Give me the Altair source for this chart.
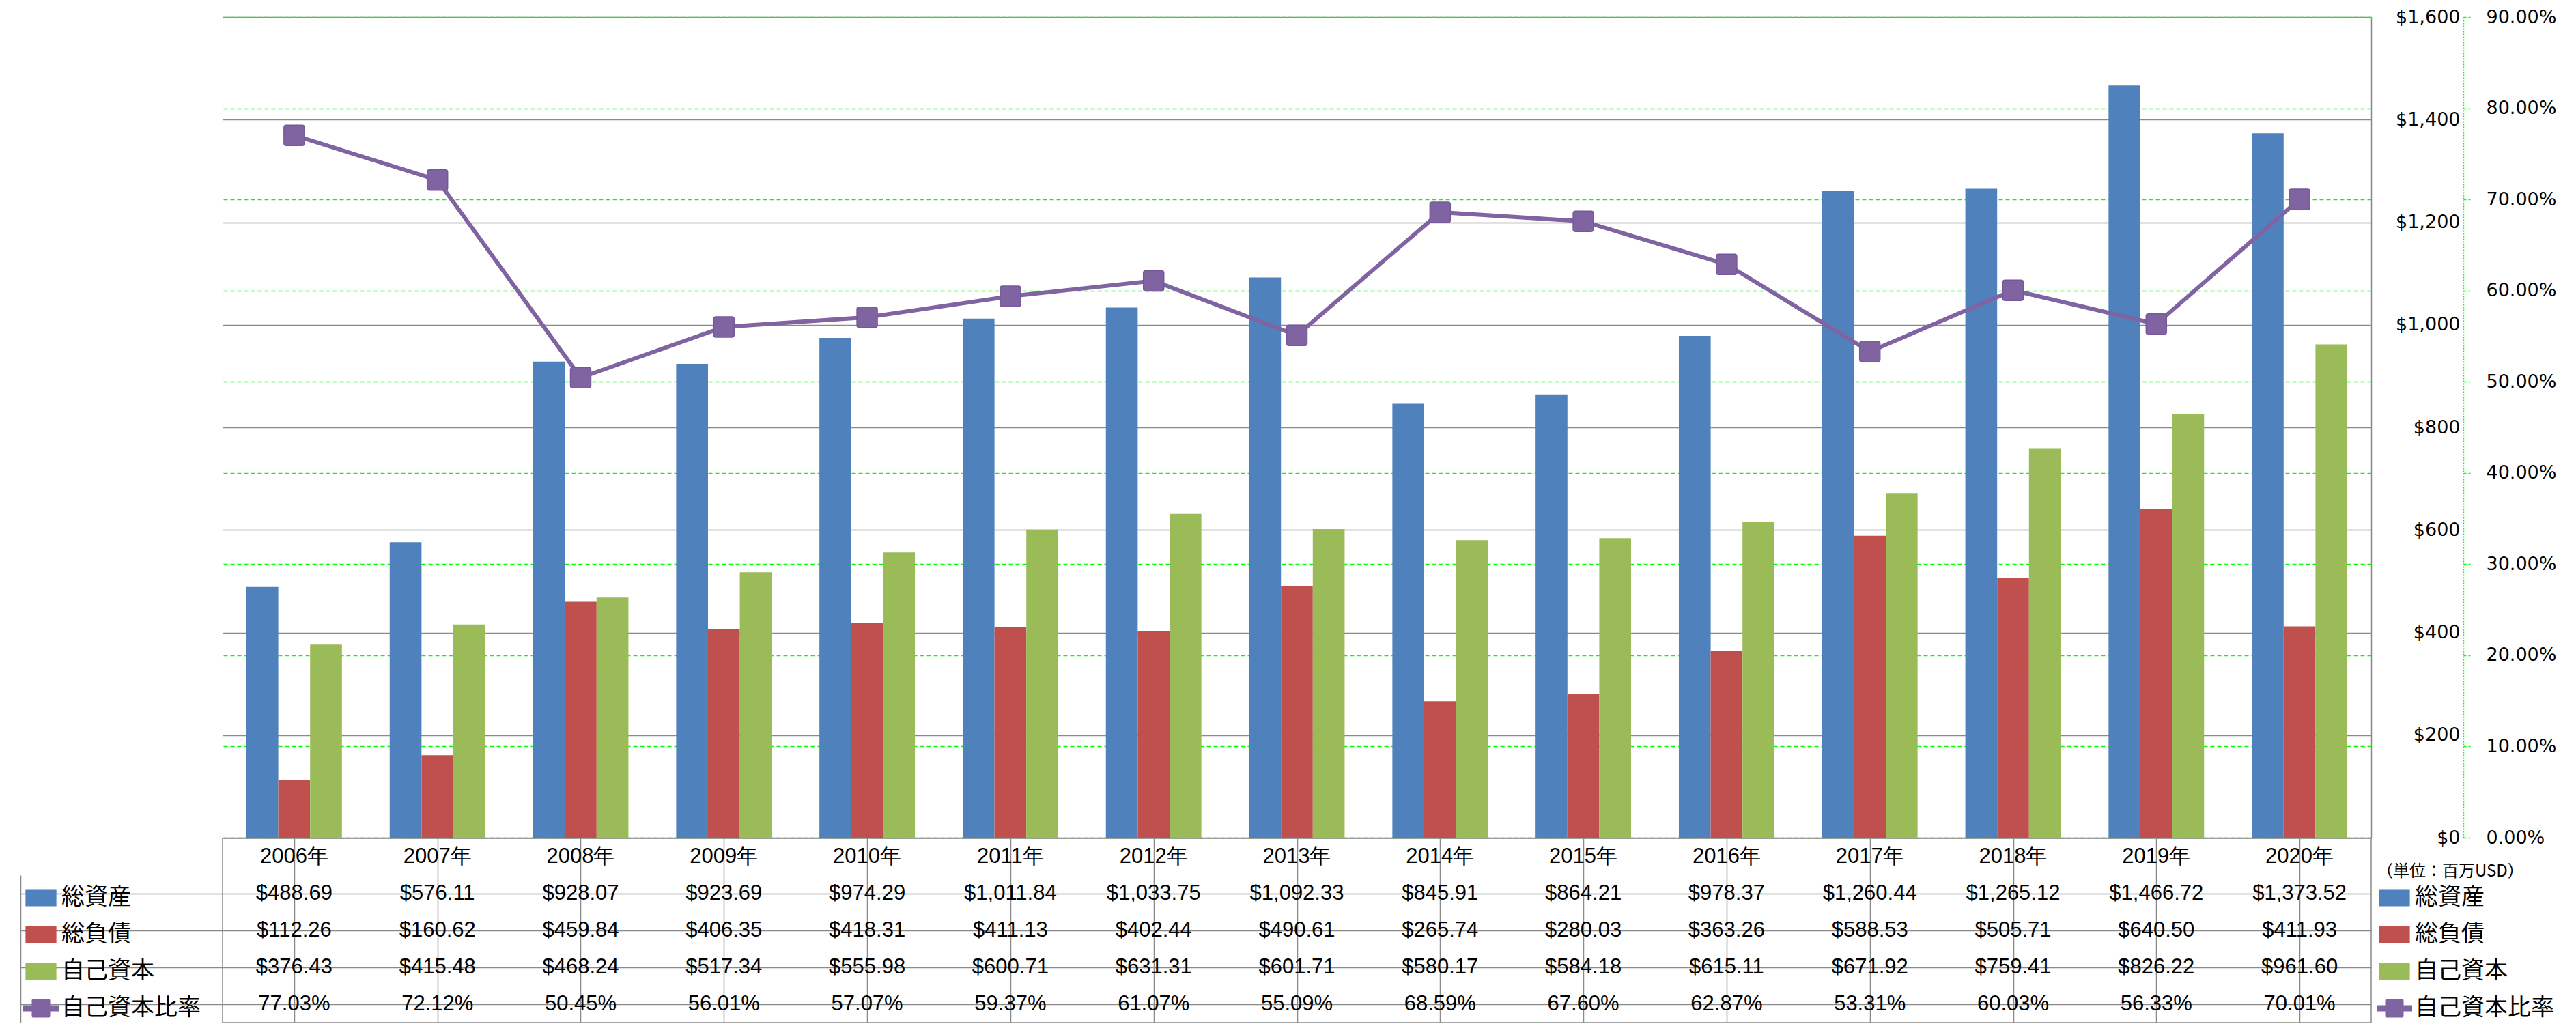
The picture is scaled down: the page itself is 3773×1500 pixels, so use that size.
import altair as alt
import pandas as pd

# ---------------- data ----------------
years = ["2006年", "2007年", "2008年", "2009年", "2010年", "2011年", "2012年", "2013年",
         "2014年", "2015年", "2016年", "2017年", "2018年", "2019年", "2020年"]
total_assets = [488.69, 576.11, 928.07, 923.69, 974.29, 1011.84, 1033.75, 1092.33,
                845.91, 864.21, 978.37, 1260.44, 1265.12, 1466.72, 1373.52]
total_liabilities = [112.26, 160.62, 459.84, 406.35, 418.31, 411.13, 402.44, 490.61,
                     265.74, 280.03, 363.26, 588.53, 505.71, 640.50, 411.93]
equity = [376.43, 415.48, 468.24, 517.34, 555.98, 600.71, 631.31, 601.71,
          580.17, 584.18, 615.11, 671.92, 759.41, 826.22, 961.60]
equity_ratio_pct = [77.03, 72.12, 50.45, 56.01, 57.07, 59.37, 61.07, 55.09,
                    68.59, 67.60, 62.87, 53.31, 60.03, 56.33, 70.01]

bar_series = ["総資産", "総負債", "自己資本"]
line_series = "自己資本比率"
all_series = bar_series + [line_series]
series_colors = ["#4F81BD", "#C0504D", "#9BBB59", "#8064A2"]
unit_label = "（単位：百万USD）"
money_ticks = [0, 200, 400, 600, 800, 1000, 1200, 1400, 1600]
pct_ticks = [0.0, 0.1, 0.2, 0.3, 0.4, 0.5, 0.6, 0.7, 0.8, 0.9]

# ---------------- tables ----------------
bar_values = [total_assets, total_liabilities, equity]
bars_df = pd.DataFrame([
    {"year": y, "series": s, "value": v}
    for s, vals in zip(bar_series, bar_values)
    for y, v in zip(years, vals)
])
ratio_df = pd.DataFrame({
    "year": years,
    "series": line_series,
    "ratio": [r / 100 for r in equity_ratio_pct],
})

table_rows = ["hdr"] + all_series
cells = [{"year": y, "row": "hdr", "text": y} for y in years]
for s, vals in zip(bar_series, bar_values):
    cells += [{"year": y, "row": s, "text": f"${v:,.2f}"} for y, v in zip(years, vals)]
cells += [{"year": y, "row": line_series, "text": f"{r:.2f}%"} for y, r in zip(years, equity_ratio_pct)]
table_df = pd.DataFrame(cells)
legend_df = pd.DataFrame({"row": all_series, "series": all_series})

# ---------------- styles ----------------
W, H, TH = 3147, 1202, 270
GREY = "#8A8A8A"
LIME = "#00FF00"
AXIS_FONT = "DejaVu Sans"
CJK_FONT = "Noto Sans CJK JP"
TABLE_FONT = "Liberation Sans"

RECT = "M-0.87,-0.48H0.87V0.48H-0.87Z"
LINESQ = ("M-1,-0.17H-0.52V-0.44A0.08,0.08 0 0 1 -0.44,-0.52H0.44A0.08,0.08 0 0 1 0.52,-0.44"
          "V-0.17H1V0.17H0.52V0.44A0.08,0.08 0 0 1 0.44,0.52H-0.44A0.08,0.08 0 0 1 -0.52,0.44"
          "V0.17H-1Z")
ROUNDSQ = ("M-0.78,-1H0.78A0.22,0.22 0 0 1 1,-0.78V0.78A0.22,0.22 0 0 1 0.78,1"
           "H-0.78A0.22,0.22 0 0 1 -1,0.78V-0.78A0.22,0.22 0 0 1 -0.78,-1Z")

color_scale = alt.Scale(domain=all_series, range=series_colors)
shape_scale = alt.Scale(domain=all_series, range=[RECT, RECT, RECT, LINESQ])


def make_legend(x, y, title=None):
    kw = dict(
        orient="none", legendX=x, legendY=y, direction="vertical",
        labelFont=CJK_FONT, labelFontSize=34, labelColor="black", labelLimit=1000,
        labelOffset=4, symbolSize=2704, symbolStrokeWidth=0, symbolOpacity=1,
        rowPadding=11, padding=0,
    )
    if title is not None:
        kw.update(title=title, titleFont=CJK_FONT, titleFontSize=24,
                  titleFontWeight="normal", titleColor="black", titlePadding=0,
                  titleLimit=1000)
    else:
        kw.update(title=None)
    return alt.Legend(**kw)


right_legend = make_legend(3155, 1240, unit_label)

x_main = alt.X("year:N", sort=years,
               scale=alt.Scale(domain=years, paddingInner=1 / 3, paddingOuter=1 / 6),
               axis=None)

money_axis = alt.Axis(orient="right", values=money_ticks, format="$,.0f", title=None,
                      ticks=False, labelPadding=130, labelAlign="right",
                      labelFont=AXIS_FONT, labelFontSize=27, labelColor="black",
                      domain=True, domainColor=GREY, domainWidth=1.5,
                      grid=True, gridColor=GREY, gridWidth=1.4)
pct_axis = alt.Axis(orient="right", offset=135, values=pct_ticks, format=".2%", title=None,
                    ticks=True, tickSize=10, tickColor=LIME, tickDash=[4, 3], tickWidth=1.5,
                    labelPadding=23, labelFont=AXIS_FONT, labelFontSize=27, labelColor="black",
                    domain=True, domainColor=LIME, domainDash=[2, 2], domainWidth=1.5,
                    grid=True, gridColor=LIME, gridDash=[6, 4], gridWidth=1.5)

money_y = alt.Y("value:Q", scale=alt.Scale(domain=[0, 1600], nice=False), axis=money_axis)
pct_y = alt.Y("ratio:Q", scale=alt.Scale(domain=[0, 0.9], nice=False), axis=pct_axis)

bars = alt.Chart(bars_df).mark_bar().encode(
    x=x_main,
    xOffset=alt.XOffset("series:N", sort=bar_series,
                        scale=alt.Scale(domain=bar_series, paddingInner=0, paddingOuter=0)),
    y=money_y,
    color=alt.Color("series:N", scale=color_scale, legend=right_legend),
)

line = alt.Chart(ratio_df).mark_line(strokeWidth=6).encode(
    x=x_main, y=pct_y,
    color=alt.Color("series:N", scale=color_scale, legend=right_legend),
)
markers = alt.Chart(ratio_df).mark_point(
    shape=ROUNDSQ, filled=True, size=900, opacity=1, stroke="#76589A", strokeWidth=1.5
).encode(
    x=x_main, y=pct_y,
    color=alt.Color("series:N", scale=color_scale, legend=right_legend),
)
legend_pts = alt.Chart(ratio_df).mark_point(opacity=0, filled=True).encode(
    x=x_main, y=pct_y,
    color=alt.Color("series:N", scale=color_scale, legend=right_legend),
    shape=alt.Shape("series:N", scale=shape_scale, legend=right_legend),
)

main = alt.layer(bars, alt.layer(line, markers, legend_pts)).resolve_scale(
    y="independent").properties(width=W, height=H)

# ---------------- data table ----------------
x_tbl = alt.X("year:N", sort=years,
              scale=alt.Scale(domain=years, paddingInner=0, paddingOuter=0),
              axis=alt.Axis(labels=False, ticks=False, domain=False, grid=True,
                            gridColor=GREY, gridWidth=1.5, bandPosition=0, title=None))
row_scale = alt.Scale(domain=table_rows, paddingInner=0, paddingOuter=0)
y_tbl = alt.Y("row:N", sort=table_rows, scale=row_scale,
              axis=alt.Axis(orient="left", values=all_series, bandPosition=0,
                            labels=False, ticks=True, tickSize=296, tickColor=GREY,
                            tickWidth=1.5, grid=True, gridColor=GREY, gridWidth=1.5,
                            domain=False, title=None))

left_legend = make_legend(-292, 61)

table_text = alt.Chart(table_df).mark_text(
    font=TABLE_FONT, fontSize=31, color="black", baseline="middle", align="center"
).encode(x=x_tbl, y=y_tbl, text="text:N")

table_legend = alt.Chart(legend_df).mark_point(opacity=0, filled=True).encode(
    y=alt.Y("row:N", sort=table_rows, scale=row_scale,
            axis=alt.Axis(orient="left", offset=296, labels=False, ticks=False, grid=False,
                          domain=True, domainColor=GREY, domainWidth=1.5,
                          domainDash=[0, 54, 216, 0], title=None)),
    color=alt.Color("series:N", scale=color_scale, legend=left_legend),
    shape=alt.Shape("series:N", scale=shape_scale, legend=left_legend),
)

table = alt.layer(table_text, table_legend).resolve_axis(y="independent").properties(
    width=W, height=TH, view=alt.ViewBackground(stroke=GREY, strokeWidth=1.5))

chart = alt.vconcat(main, table, spacing=1, bounds="flush").resolve_scale(
    x="independent", y="independent", color="independent", shape="independent"
).resolve_legend(color="independent", shape="independent").properties(
    padding={"left": 20, "top": 3, "right": 0, "bottom": 0}
).configure_view(stroke=None)

chart.save("out.html", embed_options={"renderer": "svg", "actions": False})
